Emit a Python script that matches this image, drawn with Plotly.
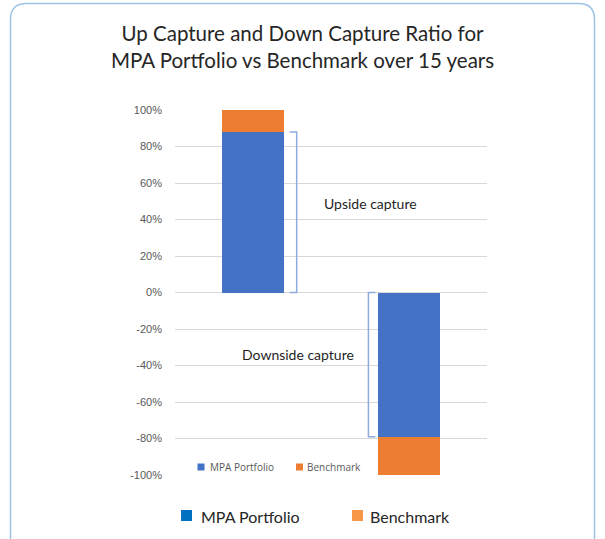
import plotly.graph_objects as go

# ---- data ----
categories = ["Upside", "Downside"]
mpa_portfolio = [0.88, -0.79]          # MPA Portfolio capture
benchmark_total = [1.00, -1.00]        # Benchmark (100%)
benchmark_rest = [b - m for b, m in zip(benchmark_total, mpa_portfolio)]
capture_labels = ["Upside capture", "Downside capture"]
y_ticks = [-1.0, -0.8, -0.6, -0.4, -0.2, 0.0, 0.2, 0.4, 0.6, 0.8, 1.0]
y_tick_text = [f"{round(v * 100)}%" for v in y_ticks]
legend_names = ["MPA Portfolio", "Benchmark"]

BAR_BLUE = "#4472C4"
BAR_ORANGE = "#ED7D31"
LEG_BLUE = "#0070C0"
LEG_ORANGE = "#F79646"
BRACKET = "#8FAADC"

W, H = 605, 539
L, R, T, B = 175, 487, 110, 475

def px_x(px):
    return (px - L) / (R - L)

def px_y(py):
    return (B - py) / (B - T)

xs = list(range(len(categories)))

fig = go.Figure()
fig.add_trace(go.Bar(x=xs, y=mpa_portfolio, width=0.4, marker_color=BAR_BLUE,
                     name=legend_names[0], marker_line_width=0))
fig.add_trace(go.Bar(x=xs, y=benchmark_rest, width=0.4, marker_color=BAR_ORANGE,
                     name=legend_names[1], marker_line_width=0))

shapes = []
# outer rounded border
x0, x1, y0, y1, r = 10.5, 594.5, 3.5, 560, 16
def P(px, py):
    return f"{px_x(px):.5f},{px_y(py):.5f}"
path = (f"M {P(x0 + r, y0)} L {P(x1 - r, y0)} Q {P(x1, y0)} {P(x1, y0 + r)} "
        f"L {P(x1, y1 - r)} Q {P(x1, y1)} {P(x1 - r, y1)} L {P(x0 + r, y1)} "
        f"Q {P(x0, y1)} {P(x0, y1 - r)} L {P(x0, y0 + r)} Q {P(x0, y0)} {P(x0 + r, y0)} Z")
shapes.append(dict(type="path", xref="paper", yref="paper", path=path,
                   line=dict(color="#9DC3E6", width=1.5), layer="below"))

# brackets (data coords)
ux, ut = 0.28, 0.045
shapes.append(dict(type="path", xref="x", yref="y",
                   path=f"M {ux-ut},{mpa_portfolio[0]} L {ux},{mpa_portfolio[0]} L {ux},0 L {ux-ut},0",
                   line=dict(color=BRACKET, width=1.5)))
dx = 1 - 0.26
shapes.append(dict(type="path", xref="x", yref="y",
                   path=f"M {dx+ut},0 L {dx},0 L {dx},{mpa_portfolio[1]} L {dx+ut},{mpa_portfolio[1]}",
                   line=dict(color=BRACKET, width=1.5)))

# inner legend squares
for (sx, col) in [(197.5, BAR_BLUE), (296, BAR_ORANGE)]:
    shapes.append(dict(type="rect", xref="paper", yref="paper",
                       x0=px_x(sx), x1=px_x(sx + 7), y0=px_y(470.5), y1=px_y(463.5),
                       fillcolor=col, line_width=0))
# bottom legend squares
for (sx, col) in [(181, LEG_BLUE), (352, LEG_ORANGE)]:
    shapes.append(dict(type="rect", xref="paper", yref="paper",
                       x0=px_x(sx), x1=px_x(sx + 11), y0=px_y(521), y1=px_y(510),
                       fillcolor=col, line_width=0))

annotations = [
    dict(x=0.75, y=0.49, xref="x", yref="y", text=capture_labels[0], showarrow=False,
         font=dict(size=14, color="#1F1F1F", family="Lato")),
    dict(x=0.29, y=-0.34, xref="x", yref="y", text=capture_labels[1], showarrow=False,
         font=dict(size=14, color="#1F1F1F", family="Lato")),
    dict(x=px_x(207.5), y=px_y(467), xref="paper", yref="paper", text=legend_names[0],
         showarrow=False, xanchor="left", yanchor="middle",
         font=dict(size=10, color="#595959", family="Open Sans")),
    dict(x=px_x(305), y=px_y(467), xref="paper", yref="paper", text=legend_names[1],
         showarrow=False, xanchor="left", yanchor="middle",
         font=dict(size=10, color="#595959", family="Open Sans")),
    dict(x=px_x(199), y=px_y(516), xref="paper", yref="paper", text=legend_names[0],
         showarrow=False, xanchor="left", yanchor="middle",
         font=dict(size=16, color="#262626", family="Lato")),
    dict(x=px_x(368), y=px_y(516), xref="paper", yref="paper", text=legend_names[1],
         showarrow=False, xanchor="left", yanchor="middle",
         font=dict(size=16, color="#262626", family="Lato")),
]

fig.update_layout(
    width=W, height=H,
    margin=dict(l=L, r=W - R, t=T, b=H - B),
    paper_bgcolor="white", plot_bgcolor="white",
    barmode="relative",
    showlegend=False,
    title=dict(text="Up Capture and Down Capture Ratio for<br>MPA Portfolio vs Benchmark over 15 years",
               x=0.5, xanchor="center", y=1 - 41 / H, yanchor="middle", yref="container",
               font=dict(size=20.5, color="#262626", family="Lato")),
    xaxis=dict(range=[-0.5, 1.5], showticklabels=False, showgrid=False, zeroline=False,
               fixedrange=True),
    yaxis=dict(range=[-1, 1], tickvals=y_ticks, ticktext=y_tick_text, showgrid=True,
               gridcolor="#D9D9D9", gridwidth=1, zeroline=True, zerolinecolor="#D9D9D9",
               zerolinewidth=1, ticks="", ticklabelstandoff=12,
               tickfont=dict(size=11, color="#595959", family="Liberation Sans")),
    shapes=shapes, annotations=annotations,
    bargap=0,
)

fig.write_html("out.html", config={"displayModeBar": False},
               post_script="document.body.style.margin='0px';")
